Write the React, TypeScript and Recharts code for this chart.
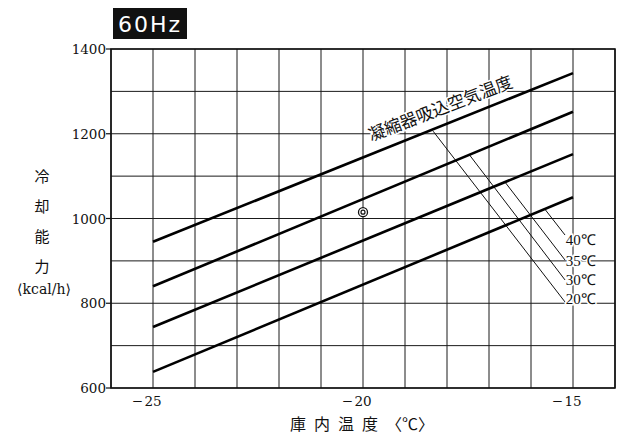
import React from "react"
import {
  ComposedChart,
  Line,
  XAxis,
  YAxis,
  CartesianGrid,
  ReferenceArea,
  ReferenceLine,
  ReferenceDot,
} from "recharts"

// 庫内温度 (°C) – grid every 1 degree, labels every 5
const xGrid = [-26, -25, -24, -23, -22, -21, -20, -19, -18, -17, -16, -15, -14]
const xLabels = [-25, -20, -15]
const yGrid = [600, 700, 800, 900, 1000, 1100, 1200, 1300, 1400]
const yLabels = [600, 800, 1000, 1200, 1400]

// 冷却能力 (kcal/h) for each condenser intake air temperature
const roomTemp = [-25, -15]
const cap40 = [945, 1343]
const cap35 = [840, 1252]
const cap30 = [744, 1152]
const cap20 = [638, 1050]

// leader lines from the curve title to the temperature labels
const condLabels = ["40℃", "35℃", "30℃", "20℃"]
const leaderStartX = [-15.67, -16.62, -17.48, -18.33]
const leaderStartY = [1022, 1086, 1152, 1206]
const leaderEndX = -15.19
const leaderEndY = [961, 902, 855, 803]
const labelY = [949, 900, 855, 810]

const ratedPoint = { t: -20, q: 1015 }

const series = [cap40, cap35, cap30, cap20].map((caps) =>
  roomTemp.map((t, i) => ({ t, q: caps[i] }))
)

const serif = "'DejaVu Serif', 'Liberation Serif', serif"
const cjk = "'Noto Sans CJK JP', sans-serif"

function XTick({ x, y, payload }: any) {
  if (!xLabels.includes(payload.value)) return null
  const digits = String(Math.abs(payload.value))
  return (
    <g>
      <text x={x - 10} y={y + 13} textAnchor="end" dominantBaseline="central" fontFamily={serif} fontSize={13.5} fill="#111">
        −
      </text>
      <text x={x} y={y + 13} textAnchor="middle" dominantBaseline="central" fontFamily={serif} fontSize={13.5} fill="#111">
        {digits}
      </text>
    </g>
  )
}

function YTick({ x, y, payload }: any) {
  if (!yLabels.includes(payload.value)) return null
  return (
    <g>
      <line x1={x - 5} x2={x} y1={y} y2={y} stroke="#111" strokeWidth={1.2} />
      <text x={x - 5} y={y} textAnchor="end" dominantBaseline="central" fontFamily={serif} fontSize={13.5} fill="#111">
        {payload.value}
      </text>
    </g>
  )
}

export default function App() {
  return (
    <div style={{ position: "absolute", left: 0, top: 0, width: 621, height: 436, background: "#fff" }}>
      <ComposedChart width={621} height={436} margin={{ top: 49, right: 6, bottom: 0, left: 0 }}>
        <CartesianGrid stroke="#1a1a1a" strokeWidth={1} />
        <XAxis
          type="number"
          dataKey="t"
          domain={[-26, -14]}
          ticks={xGrid}
          interval={0}
          axisLine={false}
          tickLine={false}
          tickSize={0}
          tickMargin={0}
          height={48}
          allowDataOverflow
          tick={<XTick />}
        />
        <YAxis
          type="number"
          domain={[600, 1400]}
          ticks={yGrid}
          interval={0}
          axisLine={false}
          tickLine={false}
          tickSize={0}
          tickMargin={0}
          width={111}
          allowDataOverflow
          tick={<YTick />}
        />
        <ReferenceArea x1={-26} x2={-14} y1={600} y2={1400} fill="none" stroke="#111" strokeWidth={1.6} fillOpacity={0} />
        {leaderStartX.map((sx, i) => (
          <ReferenceLine
            key={"ld" + i}
            segment={[
              { x: sx, y: leaderStartY[i] },
              { x: leaderEndX, y: leaderEndY[i] },
            ]}
            stroke="#111"
            strokeWidth={1}
          />
        ))}
        {series.map((d, i) => (
          <Line
            key={condLabels[i]}
            data={d}
            dataKey="q"
            type="linear"
            stroke="#000"
            strokeWidth={2.6}
            dot={false}
            activeDot={false}
            isAnimationActive={false}
          />
        ))}
        {condLabels.map((lab, i) => (
          <ReferenceDot
            key={"lab" + i}
            x={-15.17}
            y={labelY[i]}
            r={0}
            shape={(p: any) => (
              <text
                x={p.cx}
                y={p.cy}
                dominantBaseline="central"
                fontFamily="'Liberation Serif', serif"
                fontSize={15}
                fill="#111"
                stroke="#fff"
                strokeWidth={3}
                paintOrder="stroke"
              >
                {lab}
              </text>
            )}
          />
        ))}
        <ReferenceDot
          x={-18.17}
          y={1263}
          r={0}
          shape={(p: any) => (
            <text
              x={p.cx}
              y={p.cy}
              textAnchor="middle"
              dominantBaseline="central"
              transform={`rotate(-21 ${p.cx} ${p.cy})`}
              fontFamily={cjk}
              fontSize={17}
              fill="#111"
              stroke="#fff"
              strokeWidth={3}
              paintOrder="stroke"
            >
              凝縮器吸込空気温度
            </text>
          )}
        />
        <ReferenceDot
          x={ratedPoint.t}
          y={ratedPoint.q}
          r={4.5}
          shape={(p: any) => (
            <g>
              <circle cx={p.cx} cy={p.cy} r={4.5} fill="#fff" stroke="#111" strokeWidth={1.3} />
              <circle cx={p.cx} cy={p.cy} r={2} fill="none" stroke="#111" strokeWidth={1.2} />
            </g>
          )}
        />
        {/* badge and axis titles */}
        <g>
          <rect x={113} y={8} width={74} height={31} fill="#111" />
          <text x={150} y={24} textAnchor="middle" dominantBaseline="central" fontFamily="'DejaVu Sans', sans-serif" fontSize={22} letterSpacing={2} fill="#fff">
            60Hz
          </text>
          {["冷", "却", "能", "力"].map((c, i) => (
            <text key={c} x={42} y={175 + i * 30} textAnchor="middle" dominantBaseline="central" fontFamily={cjk} fontSize={15} fill="#111">
              {c}
            </text>
          ))}
          <text x={44} y={289} textAnchor="middle" dominantBaseline="central" fontFamily={serif} fontSize={14} fill="#111">
            ⟨kcal/h⟩
          </text>
          <text x={362} y={423} textAnchor="middle" dominantBaseline="central" fontFamily={cjk} fontSize={16} fill="#111">
            <tspan letterSpacing={8}>庫内温度</tspan>
            <tspan>〈℃〉</tspan>
          </text>
        </g>
      </ComposedChart>
    </div>
  )
}
